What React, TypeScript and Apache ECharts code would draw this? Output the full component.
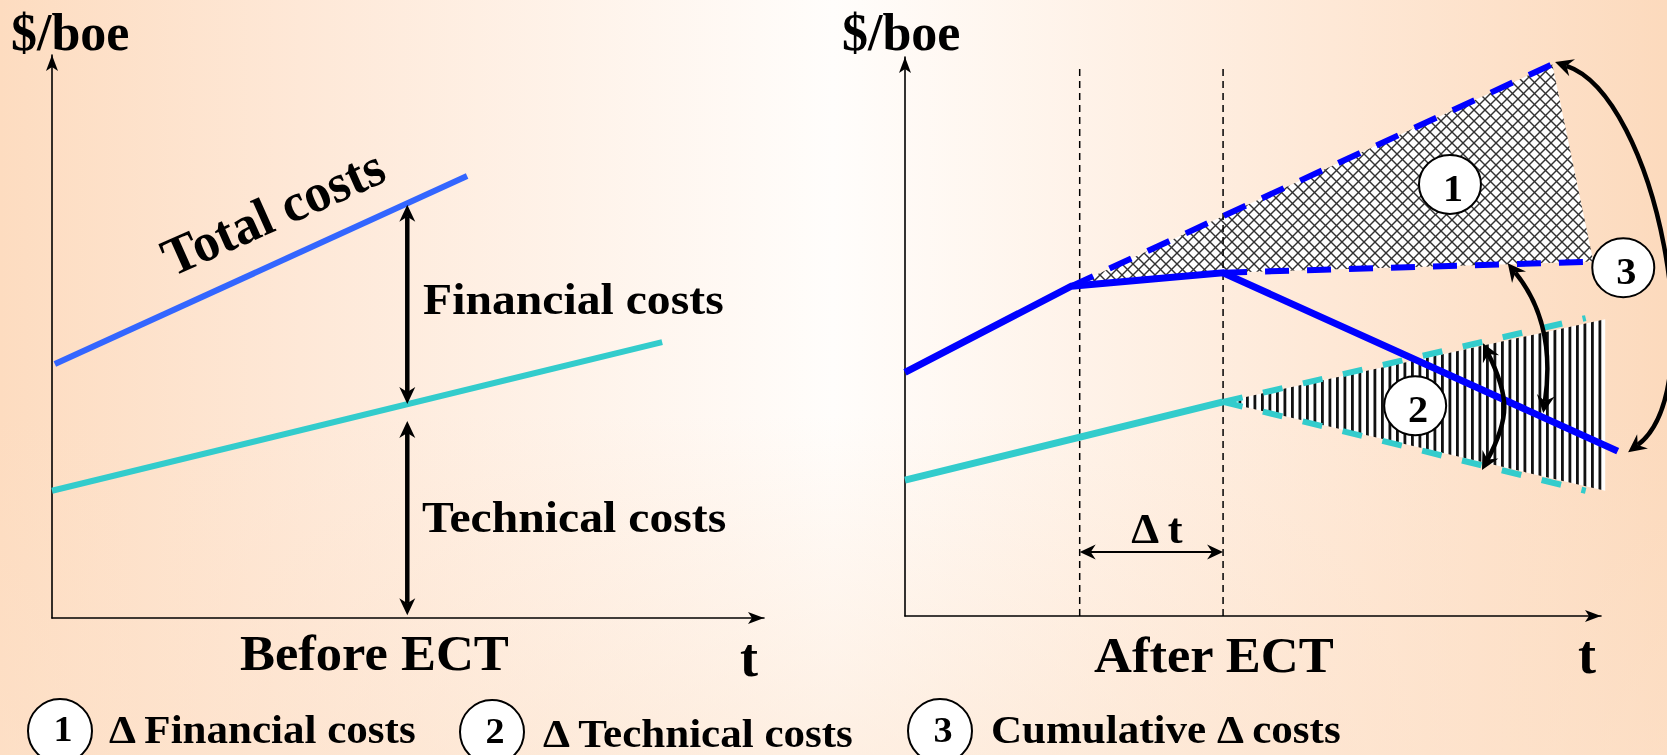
import React, { useEffect, useRef } from 'react';
import * as echarts from 'echarts';

const FONT = "'Liberation Serif', 'Times New Roman', Times, serif";

// ---------- Before ECT panel (x: time, y: $/boe, arbitrary units 0-100) ----------
const beforeTotal = [[0.4, 45.1], [58.3, 78.5]];
const beforeTechnical = [[0, 22.6], [85.7, 49.0]];
// [x, yFrom, yTo]  double-headed split arrows
const beforeSplitArrows = [[49.9, 38.0, 73.4], [49.9, 35.0, 0.5]];

// ---------- After ECT panel ----------
const afterTotal = [[0, 43.6], [23.9, 59.0], [45.7, 61.4], [102.4, 29.5]];
const afterTotalHigh = [[23.9, 59.0], [93.0, 98.7]];
const afterTotalLow = [[45.7, 61.4], [98.9, 63.4]];
const afterTechnical = [[0, 24.3], [45.7, 38.3]];
const afterTechHigh = [[45.7, 38.3], [97.8, 53.3]];
const afterTechLow = [[45.7, 38.3], [97.8, 22.4]];
const deltaFinancialArea = [[23.9, 59.0], [93.0, 98.7], [98.9, 63.4], [45.7, 61.4]];
const deltaTechnicalArea = [[45.7, 38.3], [100.6, 53.1], [100.6, 22.4]];
// ECT period markers [x, top]
const ectMarks = [[25.1, 98.6], [45.7, 98.6]];
// delta-t arrow [xFrom, y, xTo]
const deltaTArrow = [[25.1, 11.45, 45.7]];
// numbered markers [x, y, number]
const numberMarks = [[78.3, 77.2, 1], [73.3, 37.6, 2], [103.2, 62.3, 3]];
// curved double arrows as cubic curves [x0,y0, c1x,c1y, c2x,c2y, x1,y1]
const cumulativeArrows = [
  [83.05, 48.8, 86.1, 41.1, 86.1, 33.6, 82.9, 26.1],
  [86.6, 63.1, 90.9, 56.5, 92.7, 44.9, 91.7, 36.3],
  [93.4, 99.1, 106.3, 93.7, 114.7, 39.4, 103.9, 29.3],
];

// ---------- texts ----------
const yAxisTitle = '$/boe';
const xAxisTitle = 't';
const panelTitles = ['Before ECT', 'After ECT'];
const beforeLabels = ['Total costs', 'Financial costs', 'Technical costs'];
const legendItems = ['Δ Financial costs', 'Δ Technical costs', 'Cumulative Δ costs'];
const deltaTLabel = 'Δ t';

const W = 1667;
const H = 755;

function unit(dx: number, dy: number) {
  const l = Math.hypot(dx, dy) || 1;
  return [dx / l, dy / l];
}

function head(tip: number[], d: number[], L: number, Wd: number, notch: number) {
  const n = [-d[1], d[0]];
  const bx = tip[0] - d[0] * L;
  const by = tip[1] - d[1] * L;
  return {
    type: 'polygon',
    shape: {
      points: [
        [tip[0], tip[1]],
        [bx + n[0] * Wd, by + n[1] * Wd],
        [tip[0] - d[0] * (L - notch), tip[1] - d[1] * (L - notch)],
        [bx - n[0] * Wd, by - n[1] * Wd],
      ],
    },
    style: { fill: '#000' },
  };
}

function straightDouble(a: number[], b: number[], lw: number, L: number, Wd: number, notch: number) {
  const u = unit(b[0] - a[0], b[1] - a[1]);
  const s = L - notch;
  return {
    type: 'group',
    children: [
      {
        type: 'line',
        shape: { x1: a[0] + u[0] * s, y1: a[1] + u[1] * s, x2: b[0] - u[0] * s, y2: b[1] - u[1] * s },
        style: { stroke: '#000', lineWidth: lw },
      },
      head(b, u, L, Wd, notch),
      head(a, [-u[0], -u[1]], L, Wd, notch),
    ],
  };
}

function makeCrossHatch() {
  const s = 11;
  const c = document.createElement('canvas');
  c.width = s;
  c.height = s;
  const ctx = c.getContext('2d')!;
  ctx.fillStyle = '#ffffff';
  ctx.fillRect(0, 0, s, s);
  ctx.strokeStyle = '#333333';
  ctx.lineWidth = 1.4;
  for (const o of [-s, 0, s]) {
    ctx.beginPath();
    ctx.moveTo(o, 0);
    ctx.lineTo(o + s, s);
    ctx.stroke();
    ctx.beginPath();
    ctx.moveTo(o + s, 0);
    ctx.lineTo(o, s);
    ctx.stroke();
  }
  return { image: c, repeat: 'repeat', imageWidth: s, imageHeight: s };
}

function makeStripes() {
  const c = document.createElement('canvas');
  c.width = 15;
  c.height = 15;
  const ctx = c.getContext('2d')!;
  ctx.fillStyle = '#ffffff';
  ctx.fillRect(0, 0, 15, 15);
  ctx.fillStyle = '#111111';
  ctx.fillRect(1, 0, 2.8, 15);
  ctx.fillRect(8.5, 0, 2.8, 15);
  return { image: c, repeat: 'repeat', imageWidth: 15, imageHeight: 15 };
}

function axis(gridIndex: number) {
  return {
    type: 'value',
    gridIndex,
    min: 0,
    max: 100,
    axisLine: {
      show: true,
      onZero: false,
      symbol: ['none', 'path://M0,0 L6,16 L0,12 L-6,16 Z'],
      symbolSize: [13, 16],
      symbolOffset: [0, -8],
      lineStyle: { color: '#000', width: 1.6 },
    },
    axisTick: { show: false },
    axisLabel: { show: false },
    splitLine: { show: false },
  };
}

function lineSeries(data: number[][], gi: number, color: string, width: number, type: any = 'solid') {
  return {
    type: 'line',
    xAxisIndex: gi,
    yAxisIndex: gi,
    data,
    symbol: 'none',
    clip: false,
    silent: true,
    z: 3,
    lineStyle: { color, width, type, cap: 'butt', join: 'miter' },
  };
}

// polyline drawn through a custom series so that it may run past the axis end
function polySeries(pts: number[][], gi: number, color: string, width: number) {
  return {
    type: 'custom',
    xAxisIndex: gi,
    yAxisIndex: gi,
    z: 4,
    silent: true,
    data: pts,
    renderItem: (params: any, api: any) => {
      if (params.dataIndex !== 0) return null;
      return {
        type: 'polyline',
        shape: { points: pts.map((p) => api.coord(p)) },
        style: { stroke: color, lineWidth: width, fill: null, lineJoin: 'miter', lineCap: 'butt' },
      };
    },
  };
}

function areaSeries(pts: number[][], fill: any) {
  return {
    type: 'custom',
    xAxisIndex: 1,
    yAxisIndex: 1,
    z: 1,
    silent: true,
    data: pts,
    renderItem: (params: any, api: any) => {
      if (params.dataIndex !== 0) return null;
      return {
        type: 'polygon',
        shape: { points: pts.map((p) => api.coord(p)) },
        style: { fill },
      };
    },
  };
}

function txt(text: string, x: number, baseline: number, size: number, align = 'left', scaleX = 1.06, extra: any = {}) {
  return {
    type: 'text',
    x,
    y: baseline - 0.34 * size,
    scaleX,
    z: 20,
    silent: true,
    style: { text, fontSize: size, fontWeight: 'bold', fontFamily: FONT, fill: '#000', align, verticalAlign: 'middle' },
    ...extra,
  };
}

function legendCircle(cx: number, cy: number, n: string, ty: number) {
  return [
    {
      type: 'ellipse',
      shape: { cx, cy, rx: 32, ry: 32 },
      style: { fill: '#fff', stroke: '#000', lineWidth: 2 },
      z: 20,
      silent: true,
    },
    txt(n, cx + 3, ty, 36, 'center', 1.06),
  ];
}

function buildOption() {
  const cross = makeCrossHatch();
  const stripes = makeStripes();

  const graphic: any[] = [
    {
      type: 'rect',
      z: -20,
      silent: true,
      shape: { x: 0, y: 0, width: W, height: H },
      style: {
        fill: new echarts.graphic.LinearGradient(0, 0, 1, 0, [
          { offset: 0, color: '#fddcc0' },
          { offset: 0.18, color: '#fee8d7' },
          { offset: 0.5, color: '#fffdfb' },
          { offset: 0.8, color: '#fee8d6' },
          { offset: 1, color: '#fcdabd' },
        ]),
      },
    },
    {
      type: 'rect',
      z: -19,
      silent: true,
      shape: { x: 0, y: 0, width: W, height: H },
      style: {
        fill: new echarts.graphic.LinearGradient(0, 0, 0, 1, [
          { offset: 0, color: 'rgba(253,226,203,0)' },
          { offset: 0.55, color: 'rgba(253,226,203,0)' },
          { offset: 1, color: 'rgba(253,226,203,0.5)' },
        ]),
      },
    },
    txt(yAxisTitle, 11, 50, 52, 'left', 1.0),
    txt(yAxisTitle, 842, 50, 52, 'left', 1.0),
    txt(panelTitles[0], 240, 670, 51, 'left', 1.03),
    txt(panelTitles[1], 1094, 672, 51, 'left', 1.03),
    txt(xAxisTitle, 740, 676, 54, 'left', 1.0),
    txt(xAxisTitle, 1578, 673, 54, 'left', 1.0),
    {
      ...txt(beforeLabels[0], 273, 212 + 0.34 * 54, 54, 'center', 0.98),
      rotation: (24 * Math.PI) / 180,
    },
    txt(beforeLabels[1], 423, 314, 45, 'left', 1.06),
    txt(beforeLabels[2], 422, 532, 45, 'left', 1.06),
    txt(deltaTLabel, 1157, 543, 42, 'center', 1.06),
    ...legendCircle(60, 731, '1', 741),
    txt(legendItems[0], 109, 743, 41, 'left', 1.05),
    ...legendCircle(492, 732, '2', 743),
    txt(legendItems[1], 543, 747, 41, 'left', 1.05),
    ...legendCircle(940, 731, '3', 742),
    txt(legendItems[2], 991, 743, 41, 'left', 1.05),
  ];

  return {
    animation: false,
    backgroundColor: 'transparent',
    grid: [
      { left: 52, top: 55, width: 712, height: 563 },
      { left: 905, top: 57, width: 696, height: 559 },
    ],
    xAxis: [axis(0), axis(1)],
    yAxis: [axis(0), axis(1)],
    graphic,
    series: [
      areaSeries(deltaFinancialArea, cross),
      areaSeries(deltaTechnicalArea, stripes),
      {
        type: 'custom',
        xAxisIndex: 1,
        yAxisIndex: 1,
        z: 2,
        silent: true,
        data: ectMarks,
        renderItem: (params: any, api: any) => {
          const a = api.coord([api.value(0), 0]);
          const b = api.coord([api.value(0), api.value(1)]);
          return {
            type: 'line',
            shape: { x1: a[0], y1: a[1], x2: b[0], y2: b[1] },
            style: { stroke: '#000', lineWidth: 1.5, lineDash: [7, 5] },
          };
        },
      },
      lineSeries(beforeTotal, 0, '#3366ff', 6),
      lineSeries(beforeTechnical, 0, '#33cccc', 6),
      lineSeries(afterTotalHigh, 1, '#0000ff', 6, [24, 18]),
      lineSeries(afterTotalLow, 1, '#0000ff', 6, [24, 18]),
      lineSeries(afterTechHigh, 1, '#33cccc', 6, [20, 21]),
      lineSeries(afterTechLow, 1, '#33cccc', 6, [20, 21]),
      lineSeries(afterTechnical, 1, '#33cccc', 7),
      polySeries(afterTotal, 1, '#0000ff', 7),
      {
        type: 'custom',
        xAxisIndex: 0,
        yAxisIndex: 0,
        z: 5,
        silent: true,
        data: beforeSplitArrows,
        renderItem: (params: any, api: any) => {
          const a = api.coord([api.value(0), api.value(1)]);
          const b = api.coord([api.value(0), api.value(2)]);
          return straightDouble(a, b, 4.5, 17, 8, 5);
        },
      },
      {
        type: 'custom',
        xAxisIndex: 1,
        yAxisIndex: 1,
        z: 5,
        silent: true,
        data: deltaTArrow,
        renderItem: (params: any, api: any) => {
          const a = api.coord([api.value(0), api.value(1)]);
          const b = api.coord([api.value(2), api.value(1)]);
          return straightDouble(a, b, 2, 16, 7.5, 5);
        },
      },
      {
        type: 'custom',
        xAxisIndex: 1,
        yAxisIndex: 1,
        z: 6,
        silent: true,
        data: cumulativeArrows,
        renderItem: (params: any, api: any) => {
          const p0 = api.coord([api.value(0), api.value(1)]);
          const c1 = api.coord([api.value(2), api.value(3)]);
          const c2 = api.coord([api.value(4), api.value(5)]);
          const p3 = api.coord([api.value(6), api.value(7)]);
          const L = 18, Wd = 9, notch = 6, s = L - notch;
          const d0 = unit(p0[0] - c1[0], p0[1] - c1[1]);
          const d1 = unit(p3[0] - c2[0], p3[1] - c2[1]);
          return {
            type: 'group',
            children: [
              {
                type: 'bezierCurve',
                shape: {
                  x1: p0[0] - d0[0] * s,
                  y1: p0[1] - d0[1] * s,
                  cpx1: c1[0] - d0[0] * s,
                  cpy1: c1[1] - d0[1] * s,
                  cpx2: c2[0] - d1[0] * s,
                  cpy2: c2[1] - d1[1] * s,
                  x2: p3[0] - d1[0] * s,
                  y2: p3[1] - d1[1] * s,
                },
                style: { stroke: '#000', lineWidth: 4.5, fill: null },
              },
              head(p0, d0, L, Wd, notch),
              head(p3, d1, L, Wd, notch),
            ],
          };
        },
      },
      {
        type: 'custom',
        xAxisIndex: 1,
        yAxisIndex: 1,
        z: 7,
        silent: true,
        data: numberMarks,
        renderItem: (params: any, api: any) => {
          const c = api.coord([api.value(0), api.value(1)]);
          return {
            type: 'group',
            children: [
              {
                type: 'ellipse',
                shape: { cx: c[0], cy: c[1], rx: 31, ry: 29.5 },
                style: { fill: '#fff', stroke: '#000', lineWidth: 2 },
              },
              {
                type: 'text',
                x: c[0] + 3,
                y: c[1] + 3,
                scaleX: 1.06,
                style: {
                  text: String(api.value(2)),
                  fontSize: 38,
                  fontWeight: 'bold',
                  fontFamily: FONT,
                  fill: '#000',
                  align: 'center',
                  verticalAlign: 'middle',
                },
              },
            ],
          };
        },
      },
    ],
  };
}

export default function App() {
  const ref = useRef<HTMLDivElement>(null);
  useEffect(() => {
    if (!ref.current) return;
    const chart = echarts.init(ref.current, null, { renderer: 'svg' });
    chart.setOption(buildOption() as any);
    return () => chart.dispose();
  }, []);
  return <div ref={ref} style={{ position: 'fixed', left: 0, top: 0, width: W, height: H }} />;
}
